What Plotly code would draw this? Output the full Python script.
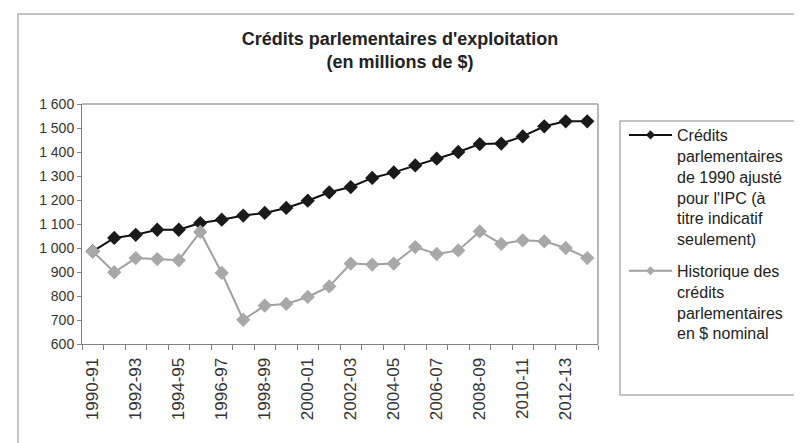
import plotly.graph_objects as go

categories = ["1990-91", "1991-92", "1992-93", "1993-94", "1994-95", "1995-96",
              "1996-97", "1997-98", "1998-99", "1999-00", "2000-01", "2001-02",
              "2002-03", "2003-04", "2004-05", "2005-06", "2006-07", "2007-08",
              "2008-09", "2009-10", "2010-11", "2011-12", "2012-13", "2013-14"]

ajuste_ipc = [986, 1042, 1055, 1076, 1076, 1104, 1118, 1135, 1146, 1167, 1197, 1232,
              1254, 1292, 1315, 1344, 1372, 1400, 1433, 1435, 1465, 1507, 1528, 1528]

nominal = [986, 899, 958, 954, 949, 1067, 896, 701, 760, 767, 796, 840,
           935, 931, 935, 1004, 975, 990, 1069, 1017, 1032, 1028, 1000, 958]

name_ipc = "Crédits<br>parlementaires<br>de 1990 ajusté<br>pour l'IPC (à<br>titre indicatif<br>seulement)"
name_nom = "Historique des<br>crédits<br>parlementaires<br>en $ nominal"

W, H = 802, 443
L, R, T, B = 74, 212, 96, 107
pw, ph = W - L - R, H - T - B

def px_x(p):
    return (p - L) / pw

def px_y(p):
    return (H - B - p) / ph

idx = list(range(len(categories)))
FONT = "Liberation Sans, Arial, sans-serif"

BLACK_LINE, BLACK_MK = "#111111", "#1a1a1a"
GRAY_LINE, GRAY_MK = "#a0a0a0", "#a8a8a8"

fig = go.Figure()
fig.add_trace(go.Scatter(
    x=idx, y=ajuste_ipc, name=name_ipc, mode="lines+markers",
    line=dict(color=BLACK_LINE, width=2),
    marker=dict(symbol="diamond", size=11, color=BLACK_MK),
    showlegend=False,
))
fig.add_trace(go.Scatter(
    x=idx, y=nominal, name=name_nom, mode="lines+markers",
    line=dict(color=GRAY_LINE, width=2),
    marker=dict(symbol="diamond", size=11, color=GRAY_MK),
    showlegend=False,
))
# legend entries with smaller symbols, as in the reference
fig.add_trace(go.Scatter(
    x=[None], y=[None], name=name_ipc, mode="lines+markers",
    line=dict(color=BLACK_LINE, width=2),
    marker=dict(symbol="diamond", size=7, color=BLACK_MK),
    legendgroup="a",
))
fig.add_trace(go.Scatter(
    x=[None], y=[None], name=name_nom, mode="lines+markers",
    line=dict(color=GRAY_LINE, width=2),
    marker=dict(symbol="diamond", size=7, color=GRAY_MK),
    legendgroup="b",
))

fig.update_layout(
    width=W, height=H,
    margin=dict(l=L, r=R, t=T, b=B),
    paper_bgcolor="white", plot_bgcolor="white",
    separators=", ",
    font=dict(family=FONT, color="#333333"),
    title=dict(
        text="<b>Crédits parlementaires d'exploitation<br>(en millions de $)</b>",
        font=dict(size=18, color="#222222", family=FONT),
        x=392 / W, xanchor="center", xref="container",
        y=1 - 37 / H, yanchor="top", yref="container",
    ),
    showlegend=True,
    legend=dict(
        x=px_x(616), xanchor="left", y=px_y(110), yanchor="top",
        font=dict(size=16, color="#222222", family=FONT),
        bgcolor="rgba(0,0,0,0)", borderwidth=0,
        valign="top", itemwidth=43,
        traceorder="grouped", tracegroupgap=8,
    ),
    xaxis=dict(
        range=[-0.5, len(categories) - 0.5],
        tickmode="array", tickvals=idx[::2], ticktext=categories[::2],
        tickangle=-90, ticks="", ticklabelstandoff=6,
        tickfont=dict(size=17, color="#333333", family=FONT),
        showline=True, linecolor="#808080", linewidth=1, mirror=False,
        showgrid=False, zeroline=False,
        minor=dict(tickmode="linear", tick0=-0.5, dtick=1, ticks="outside",
                   ticklen=5, tickcolor="#808080", showgrid=False),
    ),
    yaxis=dict(
        range=[600, 1600], dtick=100, tickformat=",d",
        ticks="outside", ticklen=4, tickcolor="#808080",
        tickfont=dict(size=14, color="#333333", family=FONT),
        showline=True, linecolor="#808080", linewidth=1,
        showgrid=False, zeroline=False,
    ),
    shapes=[
        dict(type="line", xref="paper", yref="paper", x0=0, x1=1, y0=1, y1=1,
             line=dict(color="#a0a0a0", width=1.5)),
        dict(type="line", xref="paper", yref="paper", x0=1, x1=1, y0=0, y1=1,
             line=dict(color="#a0a0a0", width=1.5)),
        dict(type="rect", xref="paper", yref="paper",
             x0=px_x(612), x1=px_x(797), y0=px_y(387), y1=px_y(113),
             line=dict(color="#b0b0b0", width=1.5)),
        dict(type="rect", xref="paper", yref="paper",
             x0=px_x(10), x1=px_x(830), y0=px_y(470), y1=px_y(6),
             line=dict(color="#c4c4c4", width=2)),
    ],
)

fig.write_html("out.html")
